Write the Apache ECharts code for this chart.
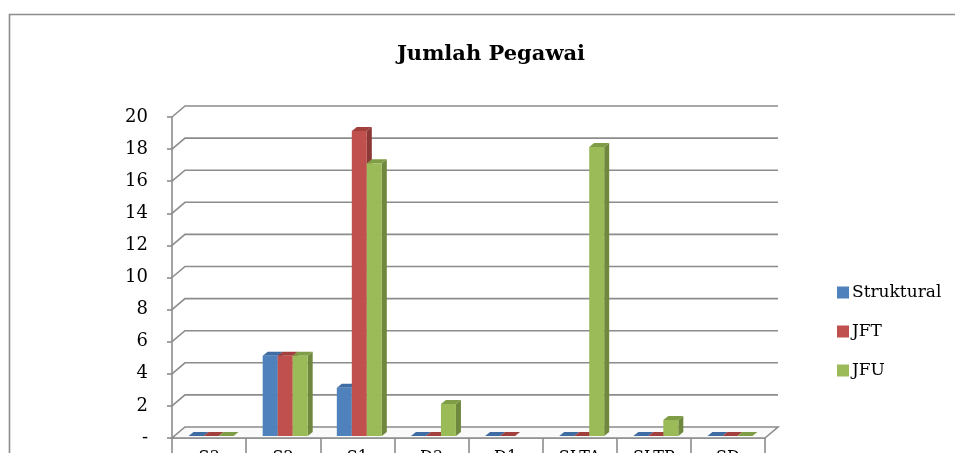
<!DOCTYPE html>
<html>
<head>
<meta charset="utf-8">
<script src="https://cdn.jsdelivr.net/npm/echarts@6/dist/echarts.min.js"></script>
<style>
  html, body { margin: 0; padding: 0; background: #fff; }
  #chart { width: 955px; height: 453px; }
</style>
</head>
<body>
<div id="chart"></div>
<script>
// data
const categories = ["S3", "S2", "S1", "D3", "D1", "SLTA", "SLTP", "SD"];
const struktural = [0, 5, 3, 0, 0, 0, 0, 0];
const jft = [0, 5, 19, 0, 0, 0, 0, 0];
const jfu = [0, 5, 17, 2, null, 18, 1, 0];
const yTicks = [0, 2, 4, 6, 8, 10, 12, 14, 16, 18, 20];

const FONT = "DejaVu Serif";
const GRID_COLOR = "#8c8c8c";
// depth of the 3d walls / bars (px)
const WALL_DX = 13, WALL_DY = -11;
const BAR_W = 15, BAR_DX = 5, BAR_DY = -4;

const palette = [
  { front: "#4f81bd", side: "#385d8a", top: "#3f6ca3" },
  { front: "#c0504d", side: "#8c3836", top: "#a1403d" },
  { front: "#9bbb59", side: "#6f883d", top: "#7f9c46" }
];

function wallItem(params, api) {
  const cs = params.coordSys;
  const v = api.value(0);
  const y = api.coord([0, v])[1];
  const x0 = cs.x, x1 = cs.x + cs.width;
  if (v === 0) {
    // floor
    return {
      type: "polygon",
      shape: { points: [[x0, y], [x1, y], [x1 + WALL_DX, y + WALL_DY], [x0 + WALL_DX, y + WALL_DY]] },
      style: { stroke: GRID_COLOR, lineWidth: 1.6, fill: "#fafafa" }
    };
  }
  return {
    type: "polyline",
    shape: { points: [[x0, y], [x0 + WALL_DX, y + WALL_DY], [x1 + WALL_DX, y + WALL_DY]] },
    style: { stroke: GRID_COLOR, lineWidth: 1.6, fill: null }
  };
}

function barRenderer(idx) {
  const c = palette[idx];
  return function (params, api) {
    const v = api.value(1);
    if (v == null || isNaN(v)) return null;
    const base = api.coord([api.value(0), 0]);
    const topPt = api.coord([api.value(0), v]);
    const x = base[0] - 1.5 * BAR_W + idx * BAR_W + 2;
    const yb = base[1] - 2;
    const yt = topPt[1] - 2;
    return {
      type: "group",
      children: [
        {
          type: "polygon",
          shape: { points: [[x + BAR_W, yb], [x + BAR_W + BAR_DX, yb + BAR_DY], [x + BAR_W + BAR_DX, yt + BAR_DY], [x + BAR_W, yt]] },
          style: { fill: c.side }
        },
        {
          type: "polygon",
          shape: { points: [[x, yt], [x + BAR_W, yt], [x + BAR_W + BAR_DX, yt + BAR_DY], [x + BAR_DX, yt + BAR_DY]] },
          style: { fill: c.top }
        },
        {
          type: "rect",
          shape: { x: x, y: yt, width: BAR_W, height: yb - yt },
          style: { fill: c.front }
        }
      ]
    };
  };
}

const chart = echarts.init(document.getElementById("chart"), null, { renderer: "canvas" });

const names = ["Struktural", "JFT", "JFU"];
const values = [struktural, jft, jfu];

chart.setOption({
  animation: false,
  textStyle: { fontFamily: FONT },
  title: {
    text: "Jumlah Pegawai",
    left: 486,
    textAlign: "center",
    top: 39,
    textStyle: { fontFamily: FONT, fontWeight: "bold", fontSize: 21, color: "#000" }
  },
  graphic: [{
    type: "rect",
    shape: { x: 9.5, y: 14.5, width: 1100, height: 600 },
    style: { fill: null, stroke: GRID_COLOR, lineWidth: 1.6 },
    z: -10
  }],
  legend: {
    orient: "vertical",
    left: 832,
    top: 279,
    itemWidth: 12,
    itemHeight: 12,
    itemGap: 22,
    icon: "rect",
    data: names,
    textStyle: { fontFamily: FONT, fontSize: 17, color: "#000", padding: [0, 0, 0, -2] }
  },
  grid: { left: 172, right: 190, top: 117, bottom: 15, outerBoundsMode: "none", containLabel: false },
  xAxis: {
    type: "category",
    data: categories,
    axisLine: { lineStyle: { color: GRID_COLOR, width: 1.6 } },
    axisTick: { show: true, length: 20, lineStyle: { color: GRID_COLOR, width: 1.6 } },
    axisLabel: { margin: 12, fontFamily: FONT, fontSize: 16, color: "#000" },
    splitLine: { show: false }
  },
  yAxis: {
    type: "value",
    min: 0,
    max: 20,
    interval: 2,
    axisLine: { show: true, lineStyle: { color: GRID_COLOR, width: 1.6 } },
    axisTick: { show: true, length: 5, lineStyle: { color: GRID_COLOR, width: 1.6 } },
    axisLabel: {
      margin: 24,
      fontFamily: FONT,
      fontSize: 18,
      color: "#000",
      formatter: v => (v === 0 ? "-" : String(v))
    },
    splitLine: { show: false }
  },
  series: [
    {
      type: "custom",
      name: "walls",
      renderItem: wallItem,
      data: yTicks.map(v => [v]),
      z: 1,
      silent: true
    }
  ].concat(names.map((n, i) => ({
    type: "custom",
    name: n,
    itemStyle: { color: palette[i].front },
    renderItem: barRenderer(i),
    encode: { x: 0, y: 1 },
    data: values[i].map((v, k) => [k, v]),
    z: 3
  })))
});
</script>
</body>
</html>
